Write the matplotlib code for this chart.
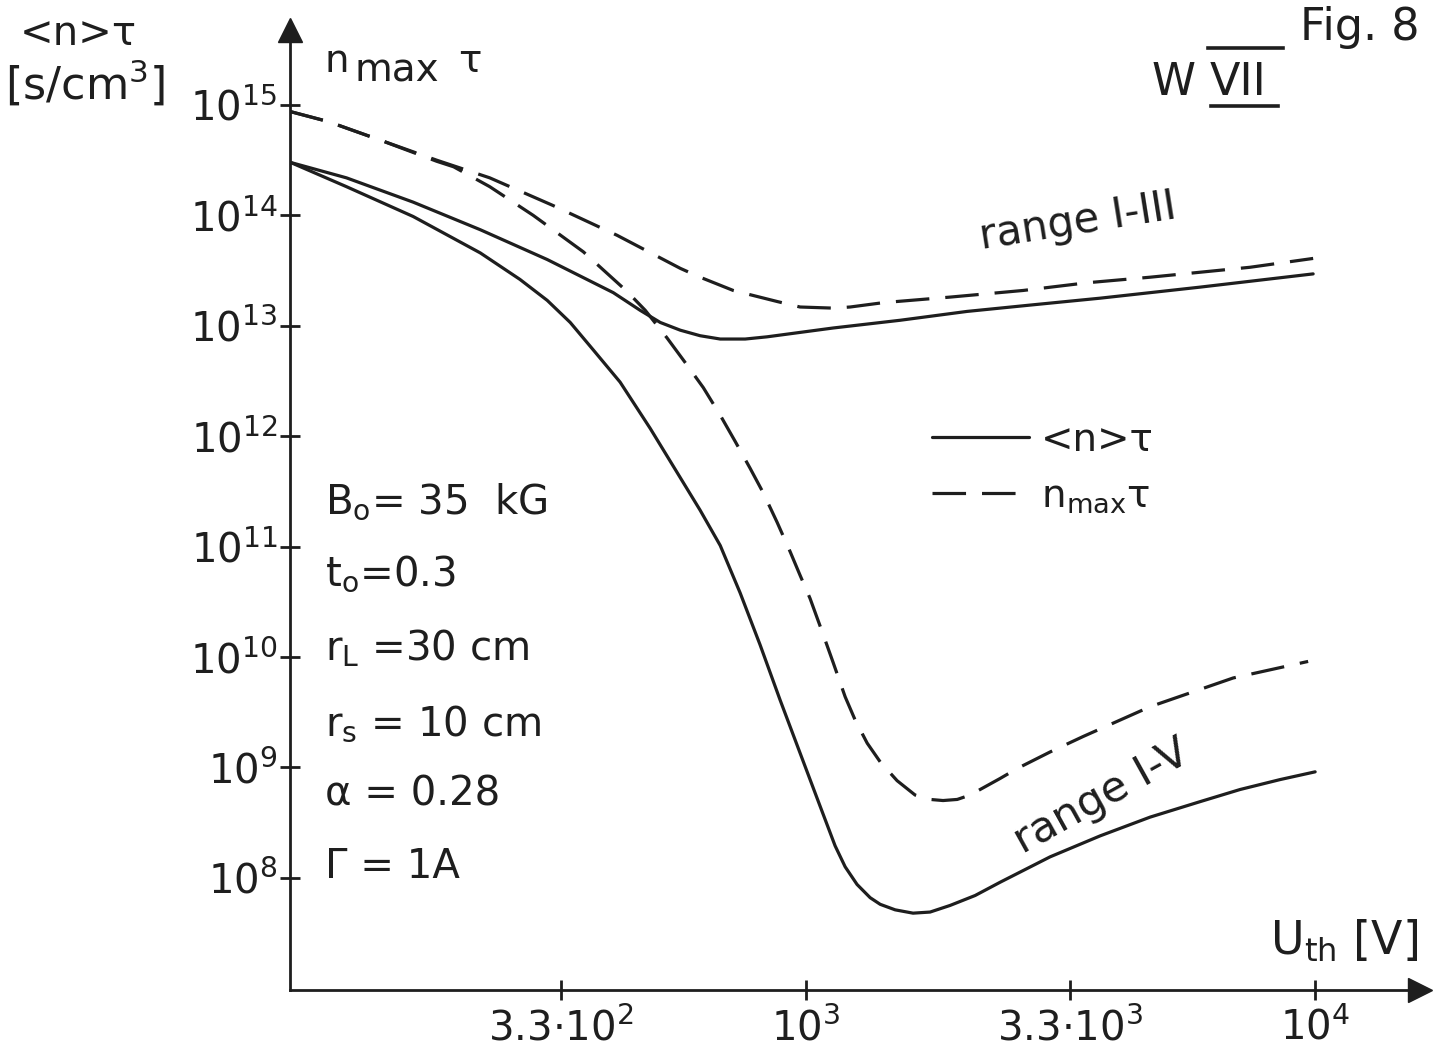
import numpy as np
import matplotlib
matplotlib.use('Agg')
import matplotlib.pyplot as plt
from matplotlib.lines import Line2D

plt.rcParams['font.family'] = ['DejaVu Sans']
plt.rcParams['mathtext.default'] = 'regular'

# U_th [V] and log10(n*tau) [s/cm^3]
# <n>tau, range I-III
u_mean_13 = [97, 125, 169, 229, 310, 360, 418, 472, 517, 566, 619, 678, 759, 838, 973, 1130, 1530,
             2070, 2790, 3780, 5940, 9910]
lg_mean_13 = [14.48, 14.34, 14.12, 13.87, 13.60, 13.45, 13.30, 13.14, 13.03, 12.96, 12.91, 12.88,
              12.88, 12.90, 12.94, 12.98, 13.05, 13.13, 13.19, 13.25, 13.35, 13.47]

# n_max tau, range I-III
u_max_13 = [97, 115, 146, 188, 239, 318, 425, 566, 619, 719, 877, 973, 1130, 1220, 1420, 1920, 2670,
            3570, 4740, 7450, 9910]
lg_max_13 = [14.94, 14.85, 14.68, 14.50, 14.34, 14.09, 13.82, 13.52, 13.44, 13.32, 13.22, 13.17,
             13.16, 13.17, 13.21, 13.26, 13.32, 13.39, 13.44, 13.53, 13.61]

# <n>tau, range I-V
u_mean_15 = [97, 125, 169, 229, 274, 310, 344, 382, 431, 494, 553, 619, 678, 742, 812, 889, 973,
             1065, 1140, 1193, 1259, 1336, 1398, 1496, 1622, 1752, 1918, 2148, 2405, 3015, 3781,
             4741, 5943, 7122, 8537, 10000]
lg_mean_15 = [14.48, 14.26, 13.99, 13.66, 13.42, 13.23, 13.03, 12.78, 12.49, 12.07, 11.70, 11.33,
              11.01, 10.58, 10.11, 9.61, 9.13, 8.65, 8.29, 8.10, 7.94, 7.82, 7.76, 7.71, 7.68, 7.69,
              7.75, 7.84, 7.96, 8.19, 8.38, 8.55, 8.69, 8.80, 8.89, 8.96]

# n_max tau, range I-V
u_max_15 = [97, 115, 146, 188, 203, 239, 291, 365, 445, 483, 533, 578, 628, 678, 726, 776, 823, 877,
            931, 973, 1018, 1075, 1130, 1193, 1248, 1318, 1398, 1509, 1637, 1752, 1858, 1981, 2100,
            2405, 2598, 3015, 3501, 4741, 6900, 9688]
lg_max_15 = [14.94, 14.85, 14.68, 14.49, 14.44, 14.26, 14.00, 13.67, 13.31, 13.14, 12.89, 12.67,
             12.44, 12.19, 11.95, 11.71, 11.49, 11.22, 10.95, 10.74, 10.53, 10.23, 9.95, 9.64, 9.43,
             9.22, 9.05, 8.88, 8.75, 8.71, 8.70, 8.71, 8.75, 8.90, 8.99, 9.14, 9.28, 9.55, 9.81, 9.96]

x_ticks = [330, 1000, 3300, 10000]
x_labels = [r'$3.3{\cdot}10^{2}$', r'$10^{3}$', r'$3.3{\cdot}10^{3}$', r'$10^{4}$']
y_exps = [8, 9, 10, 11, 12, 13, 14, 15]

params = [r'B$_{o}$= 35  kG', r't$_{o}$=0.3', r'r$_{L}$ =30 cm', r'r$_{s}$ = 10 cm',
          'α = 0.28', 'Γ = 1A']

W, H = 1448, 1054
ink = '#1e1e1e'
fig = plt.figure(figsize=(W / 100, H / 100), dpi=100)
fig.patch.set_facecolor('white')


def fx(px):
    return px / W


def fy(py):
    return 1 - py / H


ax = fig.add_axes([fx(290), fy(990), fx(1420) - fx(290), fy(30) - fy(990)])
ax.set_xscale('log')
ax.set_yscale('log')
ax.set_xlim(10 ** 1.986, 10 ** 4.206)
ax.set_ylim(10 ** 6.984, 10 ** 15.679)

lw = 2.3
l_mean, = ax.plot(u_mean_13, np.power(10.0, lg_mean_13), color=ink, lw=lw,
                  solid_capstyle='round', solid_joinstyle='round')
ax.plot(u_mean_15, np.power(10.0, lg_mean_15), color=ink, lw=lw,
        solid_capstyle='round', solid_joinstyle='round')
l_max, = ax.plot(u_max_13, np.power(10.0, lg_max_13), color=ink, lw=lw, dashes=(10.5, 5))
ax.plot(u_max_15, np.power(10.0, lg_max_15), color=ink, lw=lw, dashes=(10.5, 5))

for side in ['top', 'right']:
    ax.spines[side].set_visible(False)
for side in ['left', 'bottom']:
    ax.spines[side].set_linewidth(2.0)
    ax.spines[side].set_color(ink)

ax.set_xticks(x_ticks)
ax.set_xticklabels(x_labels)
ax.set_yticks([10.0 ** e for e in y_exps])
ax.set_yticklabels([r'$10^{%d}$' % e for e in y_exps])
ax.minorticks_off()
ax.tick_params(axis='both', direction='inout', length=14, width=2.0, color=ink,
               labelsize=29, labelcolor=ink)
ax.tick_params(axis='x', pad=6)
ax.tick_params(axis='y', pad=2)

# arrow heads on the axes
ax.plot(1, 0, marker='>', ms=17, color=ink, transform=ax.transAxes, clip_on=False)
ax.plot(0, 1, marker='^', ms=17, color=ink, transform=ax.transAxes, clip_on=False)

# axis labels
fig.text(fx(20), fy(45), '<n>τ', fontsize=29, color=ink)
fig.text(fx(5), fy(100), r'[s/cm$^{3}$]', fontsize=32, color=ink)
fig.text(fx(325), fy(72), 'n', fontsize=28, color=ink)
fig.text(fx(354), fy(81), 'max', fontsize=28, color=ink)
fig.text(fx(458), fy(72), 'τ', fontsize=28, color=ink)
fig.text(fx(1270), fy(955), r'U$_{th}$ [V]', fontsize=33, color=ink)

# figure id
fig.text(fx(1300), fy(40), 'Fig. 8', fontsize=32, color=ink)
fig.text(fx(1152), fy(95), 'W', fontsize=32, color=ink)
fig.text(fx(1210), fy(95), 'VII', fontsize=32, color=ink)
fig.add_artist(Line2D([fx(1208), fx(1283)], [fy(48), fy(48)], color=ink, lw=2.6))
fig.add_artist(Line2D([fx(1211), fx(1278)], [fy(106), fy(106)], color=ink, lw=2.6))

# curve labels
fig.text(fx(1078), fy(222), 'range I-III', fontsize=30, color=ink, rotation=9,
         ha='center', va='center', rotation_mode='anchor')
fig.text(fx(1102), fy(797), 'range I-V', fontsize=31, color=ink, rotation=29,
         ha='center', va='center', rotation_mode='anchor')

# parameter block
base = [513, 585, 660, 735, 805, 878]
for txt, py in zip(params, base):
    fig.text(fx(325), fy(py), txt, fontsize=29, color=ink, va='baseline')

ax.legend([l_mean, l_max], ['<n>τ', r'n$_{max}$τ'], loc='upper left',
          bbox_to_anchor=(fx(932), fy(421)), bbox_transform=fig.transFigure,
          frameon=False, fontsize=28, handlelength=2.5, handletextpad=0.3,
          labelspacing=0.45, borderpad=0, borderaxespad=0, labelcolor=ink)

fig.savefig('out.png', dpi=100, facecolor='white')
